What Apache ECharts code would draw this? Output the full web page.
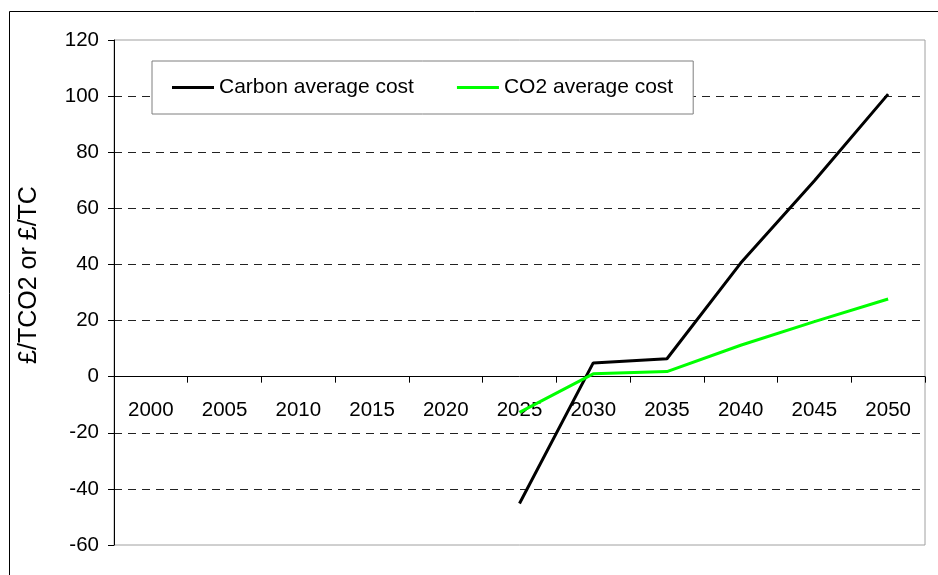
<!DOCTYPE html>
<html>
<head>
<meta charset="utf-8">
<script src="https://cdn.jsdelivr.net/npm/echarts@6/dist/echarts.min.js"></script>
<style>
  html, body { margin: 0; padding: 0; background: #fff; }
  #chart { width: 938px; height: 575px; }
</style>
</head>
<body>
<div id="chart"></div>
<script>
const years = ['2000', '2005', '2010', '2015', '2020', '2025', '2030', '2035', '2040', '2045', '2050'];
const carbonCost = [null, null, null, null, null, -45.2, 4.9, 6.4, 40.5, 69.8, 100.7];
const co2Cost = [null, null, null, null, null, -12.7, 1.0, 1.8, 11.2, 19.6, 27.7];
const yTicks = { min: -60, max: 120, step: 20 };

const font = '"Liberation Sans", Arial, sans-serif';

const chart = echarts.init(document.getElementById('chart'), null, { renderer: 'canvas' });

chart.setOption({
  backgroundColor: '#fff',
  animation: false,
  graphic: [
    {
      type: 'rect',
      shape: { x: 9.5, y: 11.5, width: 1200, height: 1000 },
      style: { fill: 'none', stroke: '#000', lineWidth: 1 },
      silent: true
    },
    {
      type: 'text',
      x: 29,
      y: 275,
      rotation: Math.PI / 2,
      style: {
        text: '£/TCO2 or £/TC',
        font: '25px ' + font,
        fill: '#000',
        align: 'center',
        verticalAlign: 'middle'
      }
    }
  ],
  grid: {
    left: 114,
    top: 40,
    right: 13,
    bottom: 30,
    show: true,
    borderColor: '#a0a0a0',
    borderWidth: 1,
    containLabel: false,
    outerBoundsMode: 'none'
  },
  legend: {
    left: 152,
    top: 61,
    orient: 'horizontal',
    icon: 'rect',
    itemWidth: 42,
    itemHeight: 3,
    itemGap: 43,
    padding: [16, 20, 16, 20],
    borderColor: '#7f7f7f',
    borderWidth: 1,
    backgroundColor: '#fff',
    textStyle: { fontFamily: font, fontSize: 21, color: '#000', lineHeight: 21 },
    data: ['Carbon average cost', 'CO2 average cost']
  },
  xAxis: [
    {
      // the axis line and ticks, sitting on zero
      type: 'category',
      data: years,
      boundaryGap: true,
      axisLine: { onZero: true, lineStyle: { color: '#000', width: 1 } },
      axisTick: { show: true, length: 6, alignWithLabel: false, lineStyle: { color: '#000' } },
      axisLabel: { show: false },
      splitLine: { show: false }
    },
    {
      // labels only, shifted up to just under the zero line
      type: 'category',
      data: years,
      position: 'bottom',
      offset: -168,
      boundaryGap: true,
      axisLine: { show: false, onZero: false },
      axisTick: { show: false },
      axisLabel: { margin: 23, fontFamily: font, fontSize: 20.5, color: '#000' },
      splitLine: { show: false }
    }
  ],
  yAxis: {
    type: 'value',
    min: yTicks.min,
    max: yTicks.max,
    interval: yTicks.step,
    axisLine: { show: true, lineStyle: { color: '#000', width: 1 } },
    axisTick: { show: true, length: 6, lineStyle: { color: '#000' } },
    axisLabel: { margin: 15, fontFamily: font, fontSize: 20.5, color: '#000' },
    splitLine: {
      show: true,
      showMinLine: false,
      showMaxLine: false,
      lineStyle: { color: '#222', width: 1, type: [8, 6] }
    }
  },
  series: [
    {
      name: 'Carbon average cost',
      type: 'line',
      data: carbonCost,
      symbol: 'none',
      color: '#000',
      lineStyle: { color: '#000', width: 3 },
      z: 3
    },
    {
      name: 'CO2 average cost',
      type: 'line',
      data: co2Cost,
      symbol: 'none',
      color: '#00ff00',
      lineStyle: { color: '#00ff00', width: 3 },
      z: 3
    }
  ]
});
</script>
</body>
</html>
